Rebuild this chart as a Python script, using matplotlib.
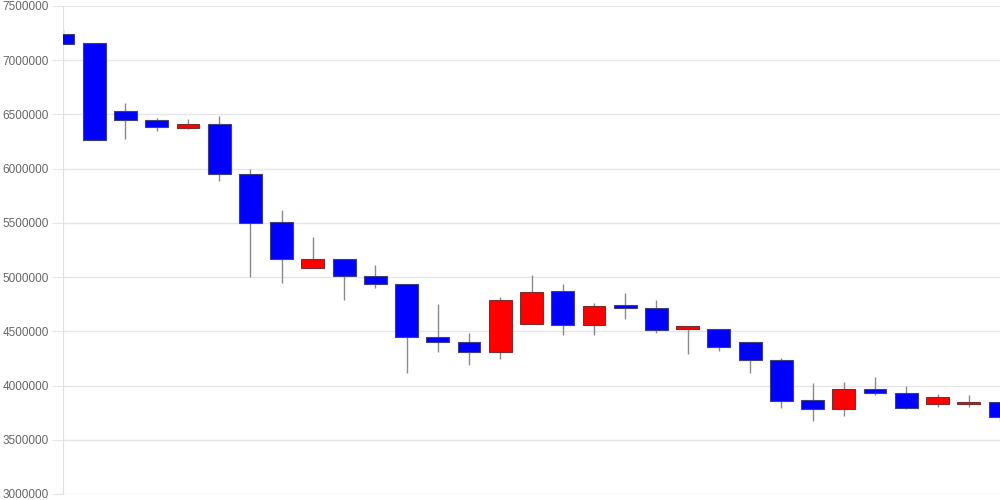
import numpy as np
import matplotlib.pyplot as plt

# candle values (open, high, low, close)
opens = [7241800, 7156000, 6531800, 6448700, 6375000, 6409100, 5950800, 5505500,
         5081300, 5167100, 5010300, 4936500, 4450500, 4401600, 4306700, 4564900,
         4874800, 4555700, 4740100, 4712500, 4518800, 4518800, 4398900, 4232900,
         3864100, 3780400, 3968400, 3934400, 3832700, 3832700, 3845200]
highs = [7278700, 7156000, 6602800, 6470000, 6455200, 6485700, 5996900, 5618900,
         5367200, 5167100, 5114500, 4940000, 4752000, 4487400, 4816600, 5016700,
         4936500, 4761300, 4850800, 4789000, 4549300, 4518800, 4398900, 4251400,
         4023600, 4032900, 4079000, 3993200, 3925000, 3915800, 3860000]
lows = [7149600, 6264400, 6270800, 6350200, 6363000, 5889000, 5003800, 4948500,
        5081300, 4789000, 4902400, 4118600, 4306700, 4186800, 4242100, 4565000,
        4463400, 4469000, 4616300, 4487400, 4288200, 4318700, 4113100, 3793000,
        3675900, 3722100, 3910100, 3783800, 3799600, 3799600, 3673000]
closes = [7149600, 6264400, 6446000, 6381500, 6409100, 5948100, 5501800, 5169900,
          5164300, 5010300, 4933700, 4450500, 4399000, 4306700, 4789000, 4862800,
          4555700, 4736400, 4712500, 4515100, 4549300, 4355600, 4232900, 3860400,
          3780400, 3968400, 3928600, 3796100, 3894500, 3848000, 3707400]
y_ticks = [3000000, 3500000, 4000000, 4500000, 5000000, 5500000, 6000000, 6500000, 7000000, 7500000]

fig = plt.figure(figsize=(10, 5), dpi=100)
ax = fig.add_axes([0.063, 0.012, 0.937, 0.976])

x = np.arange(len(opens))
o = np.array(opens)
c = np.array(closes)
up = c > o
colours = np.where(up, '#ff0000', '#0000ff')
edges = np.where(up, '#7a3030', '#40407a')

#wicks first so the bodies sit on top
ax.vlines(x, lows, highs, color='#8a8a8a', linewidth=1, zorder=2)
ax.bar(x, np.abs(c - o), bottom=np.minimum(o, c), width=0.73,
       color=colours, edgecolor=edges, linewidth=0.8, zorder=3)

ax.set_xlim(0, 30)
ax.set_ylim(3000000, 7500000)
ax.set_yticks(y_ticks)
ax.set_yticklabels([str(v) for v in y_ticks])
ax.set_xticks([])

ax.grid(axis='y', color='#e6e6e6', linewidth=1, zorder=0)
ax.set_axisbelow(True)
for side in ['top', 'right', 'bottom']:
    ax.spines[side].set_visible(False)
ax.spines['left'].set_color('#e0e0e0')
ax.tick_params(axis='y', length=8, color='#e6e6e6', pad=2,
               labelsize=8.5, labelcolor='#666666')
for lab in ax.get_yticklabels():
    lab.set_fontfamily('Liberation Sans')

fig.savefig('out.png')
